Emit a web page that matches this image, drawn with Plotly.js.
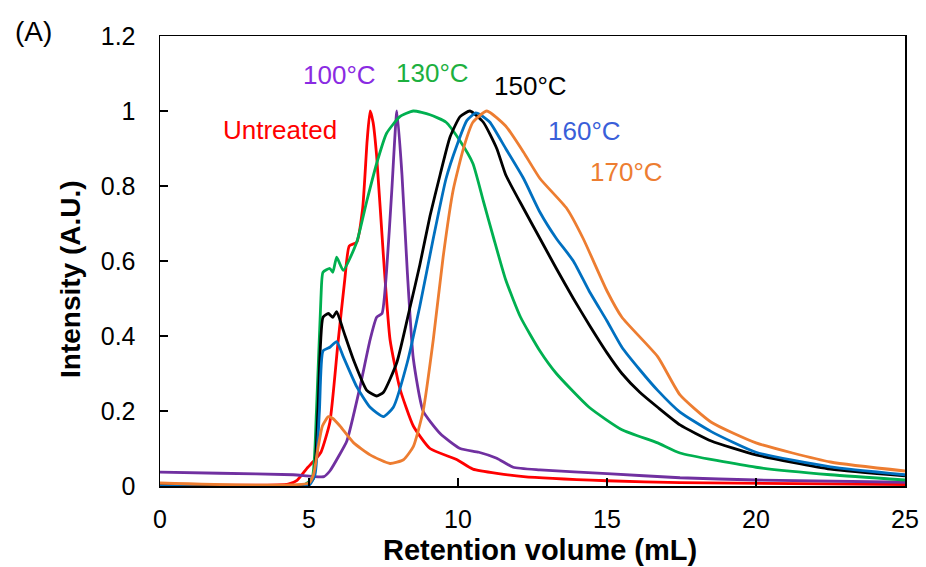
<!DOCTYPE html>
<html>
<head>
<meta charset="utf-8">
<script src="https://cdn.plot.ly/plotly-3.0.1.min.js"></script>
<style>html,body{margin:0;padding:0;background:#fff;}#chart{width:926px;height:567px;}</style>
</head>
<body>
<div id="chart"></div>
<script>
// Untreated
const untreatedX = [0, 4.3, 4.6, 4.93, 5.2, 5.4, 5.7, 5.97, 6.2, 6.35, 6.6, 6.8, 6.95, 7.05, 7.15, 7.27, 7.5, 7.72, 8.05, 8.5, 9.06, 9.97, 10.5, 12.2, 15, 17.45, 25];
const untreatedY = [0.003, 0.005, 0.015, 0.047, 0.07, 0.09, 0.17, 0.38, 0.55, 0.64, 0.65, 0.74, 0.92, 1.0, 0.97, 0.88, 0.61, 0.39, 0.26, 0.16, 0.10, 0.07, 0.045, 0.025, 0.014, 0.009, 0.004];
// 100°C
const c100X = [0, 2, 4.47, 5.5, 5.7, 6.0, 6.27, 6.7, 7.05, 7.27, 7.45, 7.6, 7.78, 7.95, 8.12, 8.3, 8.5, 8.83, 9.4, 10.07, 10.7, 11.3, 11.85, 12.75, 15, 17.45, 20, 25];
const c100Y = [0.037, 0.034, 0.03, 0.025, 0.04, 0.08, 0.12, 0.26, 0.39, 0.45, 0.46, 0.57, 0.79, 1.0, 0.83, 0.57, 0.34, 0.20, 0.14, 0.10, 0.09, 0.074, 0.05, 0.043, 0.033, 0.022, 0.016, 0.01];
// 130°C
const c130X = [0, 4.8, 5.1, 5.25, 5.4, 5.47, 5.7, 5.8, 5.93, 6.15, 6.6, 6.94, 7.27, 7.6, 8.05, 8.5, 9.06, 9.6, 10.07, 10.5, 10.85, 11.2, 11.6, 12.1, 12.75, 13.3, 14.4, 15.5, 16.7, 17.45, 20, 22.5, 25];
const c130Y = [0, 0.002, 0.02, 0.2, 0.5, 0.57, 0.58, 0.57, 0.61, 0.575, 0.65, 0.76, 0.86, 0.94, 0.985, 1.0, 0.99, 0.97, 0.92, 0.86, 0.76, 0.66, 0.55, 0.45, 0.36, 0.30, 0.21, 0.15, 0.115, 0.088, 0.05, 0.03, 0.016];
// 150°C
const c150X = [0, 4.9, 5.15, 5.3, 5.47, 5.65, 5.8, 5.93, 6.15, 6.5, 6.94, 7.27, 7.5, 7.95, 8.4, 8.72, 9.06, 9.4, 9.73, 10.07, 10.4, 10.85, 11.3, 11.6, 12.2, 12.75, 13.3, 13.87, 14.4, 15.0, 15.5, 16.1, 16.7, 17.45, 18.5, 20, 22.5, 25];
const c150Y = [0, 0.002, 0.02, 0.2, 0.45, 0.46, 0.45, 0.465, 0.415, 0.335, 0.255, 0.24, 0.25, 0.33, 0.48, 0.59, 0.72, 0.83, 0.93, 0.985, 1.0, 0.97, 0.90, 0.83, 0.74, 0.66, 0.58, 0.50, 0.43, 0.355, 0.30, 0.25, 0.21, 0.163, 0.12, 0.083, 0.045, 0.027];
// 160°C
const c160X = [0, 5.0, 5.2, 5.35, 5.47, 5.7, 5.93, 6.15, 6.6, 7.05, 7.5, 7.83, 8.3, 8.72, 9.17, 9.6, 9.97, 10.3, 10.6, 10.75, 11.07, 11.6, 12.2, 12.75, 13.3, 13.87, 14.4, 15.0, 15.5, 16.1, 16.7, 17.45, 18.5, 20, 22.5, 25];
const c160Y = [0, 0.002, 0.03, 0.2, 0.36, 0.37, 0.385, 0.345, 0.265, 0.21, 0.185, 0.21, 0.33, 0.48, 0.66, 0.82, 0.91, 0.975, 0.995, 0.99, 0.97, 0.9, 0.82, 0.73, 0.66, 0.60, 0.52, 0.44, 0.37, 0.31, 0.255, 0.197, 0.145, 0.09, 0.051, 0.03];
// 170°C
const c170X = [0, 5.0, 5.15, 5.3, 5.45, 5.65, 5.8, 6.04, 6.5, 7.05, 7.72, 8.17, 8.5, 8.83, 9.17, 9.5, 9.84, 10.2, 10.5, 10.97, 11.6, 12.2, 12.75, 13.65, 14.2, 15.0, 15.5, 16.7, 17.45, 18.5, 20, 22.5, 25];
const c170Y = [0.008, 0.008, 0.03, 0.1, 0.16, 0.185, 0.18, 0.16, 0.115, 0.083, 0.06, 0.07, 0.105, 0.2, 0.39, 0.61, 0.79, 0.905, 0.97, 1.0, 0.96, 0.89, 0.82, 0.74, 0.66, 0.52, 0.45, 0.345, 0.243, 0.17, 0.115, 0.064, 0.04];

const seriesNames = ["Untreated", "100°C", "130°C", "150°C", "160°C", "170°C"];
const xTickVals = [0, 5, 10, 15, 20, 25];
const yTickVals = [0, 0.2, 0.4, 0.6, 0.8, 1, 1.2];
const xTitle = 'Retention volume (mL)';
const yTitle = 'Intensity (A.U.)';
const panelLabel = '(A)';

const FONT = 'Arial, "Liberation Sans", sans-serif';
const lineColors = ["#FF0000", "#7030A0", "#00B050", "#000000", "#0070C0", "#ED7D31"];
const textColors = ["#FF0000", "#8A2BE2", "#1DB03F", "#000000", "#3A5FD9", "#ED7D31"];
const xs = [untreatedX, c100X, c130X, c150X, c160X, c170X];
const ys = [untreatedY, c100Y, c130Y, c150Y, c160Y, c170Y];

const traces = seriesNames.map((n, i) => ({
  x: xs[i], y: ys[i], name: n, type: 'scatter', mode: 'lines',
  line: {color: lineColors[i], width: 2.8, shape: 'spline', smoothing: 0.5}
}));

// plot area in pixels: x 160..905, y 36..486
const px = v => (v - 160) / 745;
const py = v => (486 - v) / 450;

const labelPos = [[4.03, 0.949], [6.04, 1.096], [9.13, 1.101], [12.42, 1.067], [14.26, 0.947], [15.64, 0.837]];
const annotations = seriesNames.map((n, i) => ({
  x: labelPos[i][0], y: labelPos[i][1], xref: 'x', yref: 'y', text: n, showarrow: false,
  font: {family: FONT, size: 26, color: textColors[i]},
  xanchor: 'center', yanchor: 'middle'
}));
annotations.push({
  x: px(33), y: py(31), xref: 'paper', yref: 'paper', text: panelLabel, showarrow: false,
  font: {family: FONT, size: 28, color: '#000'}, xanchor: 'center', yanchor: 'middle'
});
annotations.push({
  x: px(540), y: py(550), xref: 'paper', yref: 'paper', text: xTitle, showarrow: false,
  font: {family: FONT, size: 29, color: '#000', weight: 'bold'}, xanchor: 'center', yanchor: 'middle'
});
annotations.push({
  x: px(70), y: py(279), xref: 'paper', yref: 'paper', text: yTitle, showarrow: false, textangle: -90,
  font: {family: FONT, size: 28, color: '#000', weight: 'bold'}, xanchor: 'center', yanchor: 'middle'
});

const layout = {
  width: 926, height: 567,
  margin: {l: 160, r: 21, t: 36, b: 81},
  paper_bgcolor: '#fff', plot_bgcolor: '#fff',
  showlegend: false,
  font: {family: FONT, color: '#000'},
  xaxis: {
    range: [0, 25], tickvals: xTickVals, ticks: 'inside', ticklen: 8, tickwidth: 1.3, tickcolor: '#000',
    showline: true, linecolor: '#000', linewidth: 1.5, mirror: true, showgrid: false, zeroline: false,
    tickfont: {size: 25, color: '#000'}, ticklabelstandoff: 10
  },
  yaxis: {
    range: [0, 1.2], tickvals: yTickVals, ticks: 'inside', ticklen: 8, tickwidth: 1.3, tickcolor: '#000',
    showline: true, linecolor: '#000', linewidth: 1.5, mirror: true, showgrid: false, zeroline: false,
    tickfont: {size: 25, color: '#000'}, ticklabelstandoff: 18
  },
  annotations: annotations
};

Plotly.newPlot('chart', traces, layout, {staticPlot: true, displayModeBar: false});
</script>
</body>
</html>
